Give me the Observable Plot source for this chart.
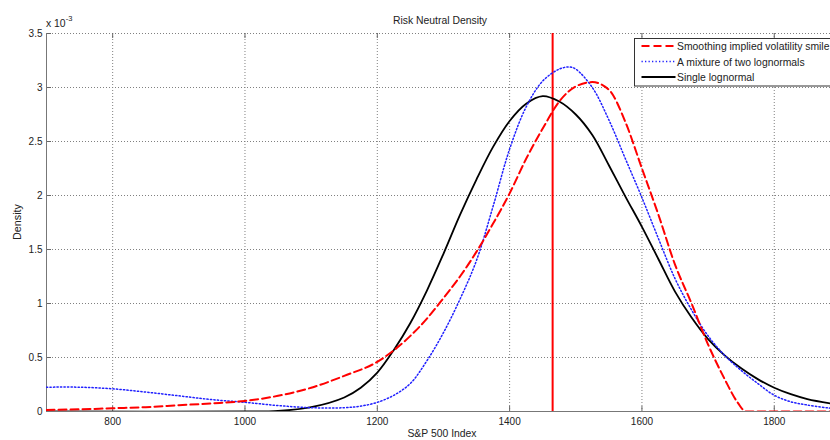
<!DOCTYPE html>
<html>
<head>
<meta charset="utf-8">
<script src="https://cdn.jsdelivr.net/npm/d3@7"></script>
<script src="https://cdn.jsdelivr.net/npm/@observablehq/plot@0.6"></script>
<style>
  html, body { margin: 0; padding: 0; background: #fff; }
  #chart svg { display: block; }
</style>
</head>
<body>
<div id="chart"></div>
<script>
// Axis ticks
const xTicks = [800, 1000, 1200, 1400, 1600, 1800];
const yTicks = [0, 0.5, 1, 1.5, 2, 2.5, 3, 3.5];

// Current index level (vertical marker)
const spotLevel = 1465;

// Smoothing implied volatility smile (density in units of 1e-3)
const smileX = [700, 750, 800, 850, 900, 950, 1000, 1050, 1100, 1150, 1200, 1250, 1275, 1300, 1325, 1350, 1375, 1400, 1425, 1450, 1475, 1500, 1525, 1550, 1575, 1600, 1625, 1650, 1675, 1700, 1725, 1745, 1757, 1800, 1885];
const smileY = [0.015, 0.02, 0.03, 0.04, 0.058, 0.075, 0.098, 0.145, 0.22, 0.33, 0.46, 0.70, 0.86, 1.05, 1.25, 1.48, 1.74, 2.02, 2.34, 2.62, 2.87, 3.01, 3.05, 2.98, 2.68, 2.25, 1.82, 1.36, 1.0, 0.62, 0.30, 0.08, 0, 0, 0];

// A mixture of two lognormals
const mixX = [700, 750, 800, 850, 900, 950, 1000, 1050, 1100, 1150, 1175, 1200, 1225, 1250, 1275, 1300, 1325, 1350, 1375, 1400, 1425, 1450, 1475, 1490, 1500, 1525, 1550, 1575, 1600, 1625, 1650, 1675, 1700, 1725, 1750, 1775, 1800, 1825, 1850, 1885];
const mixY = [0.225, 0.225, 0.21, 0.18, 0.145, 0.11, 0.085, 0.055, 0.035, 0.035, 0.05, 0.085, 0.15, 0.26, 0.47, 0.73, 1.04, 1.40, 1.90, 2.43, 2.82, 3.06, 3.17, 3.19, 3.17, 3.00, 2.70, 2.34, 1.98, 1.60, 1.23, 0.94, 0.70, 0.52, 0.38, 0.26, 0.15, 0.09, 0.06, 0.03];

// Single lognormal
const singleX = [700, 1000, 1050, 1100, 1150, 1175, 1200, 1225, 1250, 1275, 1300, 1325, 1350, 1375, 1400, 1425, 1450, 1475, 1500, 1525, 1550, 1575, 1600, 1625, 1650, 1675, 1700, 1725, 1750, 1775, 1800, 1825, 1850, 1885];
const singleY = [0, 0, 0.005, 0.04, 0.13, 0.22, 0.36, 0.57, 0.82, 1.12, 1.46, 1.82, 2.15, 2.45, 2.69, 2.85, 2.92, 2.87, 2.75, 2.56, 2.28, 1.99, 1.71, 1.41, 1.11, 0.87, 0.67, 0.52, 0.40, 0.30, 0.22, 0.16, 0.115, 0.075];

const legendLabels = ["Smoothing implied volatility smile", "A mixture of two lognormals", "Single lognormal"];

const toRows = (xs, ys) => xs.map((x, i) => ({x, y: ys[i]}));
const smile = toRows(smileX, smileY);
const mix = toRows(mixX, mixY);
const single = toRows(singleX, singleY);

const W = 830, H = 440;
const mL = 46, mR = 0, mT = 33, mB = 29;
const innerH = H - mT - mB;
const tickLen = 5;
const fontFamily = "'Liberation Sans', Arial, Helvetica, sans-serif";
const textSize = 10.4;
const tickTextSize = 10;

const chart = Plot.plot({
  width: W,
  height: H,
  marginLeft: mL,
  marginRight: mR,
  marginTop: mT,
  marginBottom: mB,
  x: {domain: [700, 1885]},
  y: {domain: [0, 3.5]},
  style: {fontFamily, fontSize: `${tickTextSize}px`, color: "#222", background: "#fff", overflow: "visible"},
  marks: [
    // dotted grid
    Plot.gridX(xTicks, {stroke: "#808080", strokeOpacity: 1, strokeDasharray: "1,2"}),
    Plot.gridY(yTicks, {stroke: "#808080", strokeOpacity: 1, strokeDasharray: "1,2"}),
    // inward tick marks, bottom, top and left
    Plot.tickX(xTicks, {x: d => d, insetTop: innerH - tickLen, stroke: "#666"}),
    Plot.tickX(xTicks, {x: d => d, insetBottom: innerH - tickLen, stroke: "#666"}),
    Plot.tickY(yTicks, {y: d => d, insetRight: (W - mL - mR) - tickLen, stroke: "#666"}),
    // axis lines
    Plot.ruleY([0], {stroke: "#777", strokeWidth: 1}),
    Plot.ruleX([700], {stroke: "#777", strokeWidth: 1}),
    // tick labels
    Plot.axisX(xTicks, {tickSize: 0, tickPadding: 6, tickFormat: d => String(d), label: null, fontSize: tickTextSize}),
    Plot.axisY(yTicks, {tickSize: 0, tickPadding: 4, tickFormat: d => String(d), label: null, fontSize: tickTextSize}),
    // spot level
    Plot.ruleX([spotLevel], {stroke: "#ff0000", strokeWidth: 2}),
    // densities
    Plot.line(single, {x: "x", y: "y", stroke: "#000", strokeWidth: 1.8, curve: "catmull-rom", clip: true}),
    Plot.line(mix, {x: "x", y: "y", stroke: "#2020ff", strokeWidth: 1.5, strokeDasharray: "1.3,2.2", curve: "catmull-rom", clip: true}),
    Plot.line(smile, {x: "x", y: "y", stroke: "#ff0000", strokeWidth: 2, strokeDasharray: "8,4", curve: "monotone-x", clip: true})
  ]
});

document.getElementById("chart").appendChild(chart);

const svg = d3.select(chart);
const cx = (mL + W - mR) / 2;

// Title
svg.append("text")
  .attr("x", cx + 2).attr("y", 24)
  .attr("text-anchor", "middle")
  .attr("font-size", textSize).attr("fill", "#222")
  .text("Risk Neutral Density");

// Axis labels
svg.append("text")
  .attr("x", cx + 4).attr("y", 437)
  .attr("text-anchor", "middle")
  .attr("font-size", textSize).attr("fill", "#222")
  .text("S&P 500 Index");

svg.append("text")
  .attr("transform", `translate(21, ${mT + innerH / 2}) rotate(-90)`)
  .attr("text-anchor", "middle")
  .attr("font-size", 10.8).attr("fill", "#222")
  .text("Density");

// Exponent of the y axis
const ex = svg.append("text")
  .attr("x", mL).attr("y", 27)
  .attr("text-anchor", "start")
  .attr("font-size", textSize).attr("fill", "#222");
ex.append("tspan").text("x 10");
ex.append("tspan").attr("font-size", 7.5).attr("dy", -6).text("-3");

// Legend
const lg = svg.append("g").attr("transform", "translate(634.5, 38.5)");
lg.append("rect")
  .attr("width", 260).attr("height", 47.5)
  .attr("fill", "#fff").attr("stroke", "#333").attr("stroke-width", 1);
const styles = [
  {stroke: "#ff0000", width: 2, dash: "8,4"},
  {stroke: "#2020ff", width: 1.5, dash: "1.3,2.2"},
  {stroke: "#000", width: 1.8, dash: null}
];
legendLabels.forEach((label, i) => {
  const yy = 7.5 + i * 15.5;
  const s = styles[i];
  const ln = lg.append("line")
    .attr("x1", 7).attr("x2", 41).attr("y1", yy).attr("y2", yy)
    .attr("stroke", s.stroke).attr("stroke-width", s.width);
  if (s.dash) ln.attr("stroke-dasharray", s.dash);
  lg.append("text")
    .attr("x", 42.5).attr("y", yy + 4)
    .attr("text-anchor", "start")
    .attr("font-size", textSize).attr("fill", "#222")
    .text(label);
});
</script>
</body>
</html>
